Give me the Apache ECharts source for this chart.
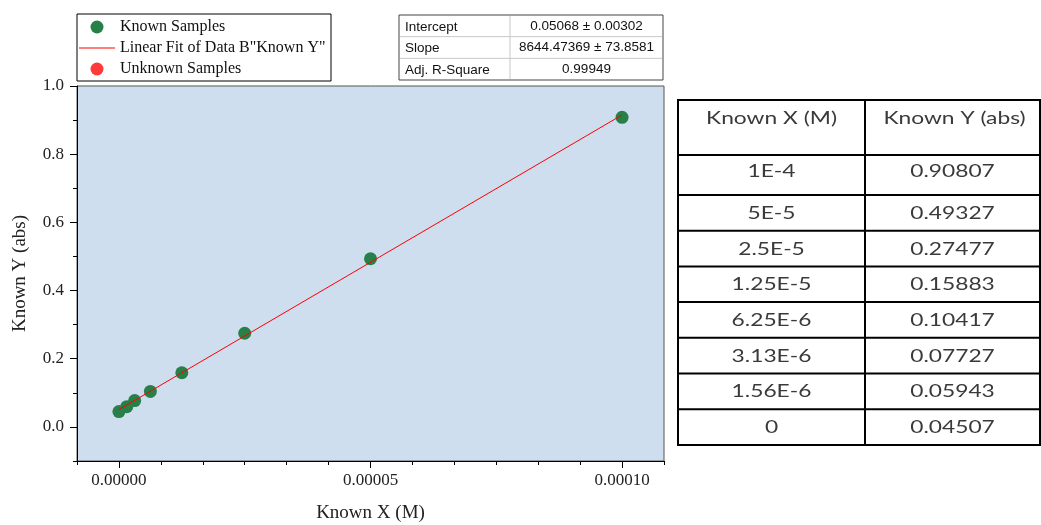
<!DOCTYPE html>
<html>
<head>
<meta charset="utf-8">
<script src="https://cdn.jsdelivr.net/npm/echarts@6/dist/echarts.min.js"></script>
<style>html,body{margin:0;padding:0;background:#fff}#c{width:1041px;height:525px}</style>
</head>
<body>
<div id="c"></div>
<script>
// ---- data ----
var knownX = [1e-4, 5e-5, 2.5e-5, 1.25e-5, 6.25e-6, 3.13e-6, 1.56e-6, 0];
var knownY = [0.90807, 0.49327, 0.27477, 0.15883, 0.10417, 0.07727, 0.05943, 0.04507];
var knownXText = ['1E-4', '5E-5', '2.5E-5', '1.25E-5', '6.25E-6', '3.13E-6', '1.56E-6', '0'];
var unknownX = [];
var unknownY = [];
var intercept = 0.05068;
var slope = 8644.47369;
var fitRange = [0, 1e-4];
var statNames = ['Intercept', 'Slope', 'Adj. R-Square'];
var statValues = ['0.05068 \u00b1 0.00302', '8644.47369 \u00b1 73.8581', '0.99949'];
var tableHeaders = ['Known X (M)', 'Known Y (abs)'];
var xMajorTicks = [0, 5e-5, 1e-4];
var yMajorTicks = [0, 0.2, 0.4, 0.6, 0.8, 1.0];
var yMinorTicks = [-0.1, 0.1, 0.3, 0.5, 0.7, 0.9];
var xStep = 5e-5 / 6;
var xMin = -xStep, xMax = 1e-4 + xStep;
var yMin = -0.1, yMax = 1.0;

var xMinorTicks = [];
for (var i = -1; i <= 13; i++) { if (i % 6 !== 0) xMinorTicks.push(i * xStep); }

var knownData = knownX.map(function (x, i) { return [x, knownY[i]]; });
var unknownData = unknownX.map(function (x, i) { return [x, unknownY[i]]; });
var fitData = fitRange.map(function (x) { return [x, intercept + slope * x]; });

var serif = 'Liberation Serif';
var chart = echarts.init(document.getElementById('c'));

// ---- graphic tables ----
var graphics = [];
// stats table
var sx = 399, sy = 15, sw = 264, sh = 65, sc = 510, rh = sh / 3;
graphics.push({ type: 'rect', shape: { x: sx, y: sy, width: sw, height: sh }, style: { fill: '#fff', stroke: '#444', lineWidth: 1 }, z: 10 });
for (var r = 1; r < 3; r++) {
  graphics.push({ type: 'line', shape: { x1: sx + 1, y1: sy + r * rh, x2: sx + sw - 1, y2: sy + r * rh }, style: { stroke: '#c8c8c8', lineWidth: 1 }, z: 11 });
}
graphics.push({ type: 'line', shape: { x1: sc, y1: sy + 1, x2: sc, y2: sy + sh - 1 }, style: { stroke: '#c8c8c8', lineWidth: 1 }, z: 11 });
statNames.forEach(function (n, i) {
  graphics.push({ type: 'text', x: sx + 6, y: sy + rh * (i + 0.5) + 1, style: { text: n, fontFamily: 'Liberation Sans', fontSize: 13.5, fill: '#111', textAlign: 'left', textVerticalAlign: 'middle' }, z: 12 });
  graphics.push({ type: 'text', x: (sc + sx + sw) / 2, y: sy + rh * (i + 0.5), style: { text: statValues[i], fontFamily: 'Liberation Sans', fontSize: 13.5, fill: '#111', textAlign: 'center', textVerticalAlign: 'middle' }, z: 12 });
});

// data table
var tx = 678, ty = 100, tw = 362, headH = 55, firstRowH = 40, rowH = 35.7, tc = 865;
var nRows = knownX.length;
var th = headH + firstRowH + rowH * (nRows - 1);
function rowTop(k) { return ty + headH + (k === 0 ? 0 : firstRowH + (k - 1) * rowH); }
graphics.push({ type: 'rect', shape: { x: tx, y: ty, width: tw, height: th }, style: { fill: '#fff', stroke: '#000', lineWidth: 2 }, z: 10 });
for (var k = 0; k < nRows; k++) {
  var ly = rowTop(k);
  graphics.push({ type: 'line', shape: { x1: tx, y1: ly, x2: tx + tw, y2: ly }, style: { stroke: '#000', lineWidth: 2 }, z: 11 });
}
graphics.push({ type: 'line', shape: { x1: tc, y1: ty, x2: tc, y2: ty + th }, style: { stroke: '#000', lineWidth: 2 }, z: 11 });
var tFont = { fontFamily: 'Lato', fontSize: 17, fill: '#3a3a3a', textAlign: 'center', textVerticalAlign: 'middle' };
var c1 = (tx + tc) / 2, c2 = (tc + tx + tw) / 2, scx = 1.34;
function tText(txt, x, y) {
  graphics.push({ type: 'text', x: x, y: y, scaleX: scx, style: Object.assign({ text: txt }, tFont), z: 12 });
}
tText(tableHeaders[0], c1, ty + 19);
tText(tableHeaders[1], c2 + 2, ty + 19);
for (var k2 = 0; k2 < nRows; k2++) {
  var cy = rowTop(k2) + (k2 === 0 ? 17 : rowH / 2 + 0.5);
  tText(knownXText[k2], c1, cy);
  tText(knownY[k2].toFixed(5), c2, cy);
}

var axisTitle = { fontFamily: serif, fontSize: 19, color: '#222' };
var lineIcon = 'path://M0,0 L36,0 L36,1.2 L0,1.2 Z';

chart.setOption({
  animation: false,
  backgroundColor: '#fff',
  grid: { left: 77, right: 377, top: 86, bottom: 64, outerBoundsMode: 'none', containLabel: false, show: true, backgroundColor: '#cfdeee', borderColor: '#555', borderWidth: 1 },
  legend: {
    orient: 'vertical', left: 77, top: 14,
    padding: [5, 2, 4, 2], itemWidth: 36, itemHeight: 13, itemGap: 5,
    borderColor: '#000', borderWidth: 1, backgroundColor: '#fff',
    textStyle: { fontFamily: serif, fontSize: 16, color: '#111', width: 209, lineHeight: 13, height: 13 },
    data: [
      { name: 'Known Samples', icon: 'circle' },
      { name: 'Linear Fit of Data B"Known Y"', icon: lineIcon, itemStyle: { color: '#ff0000' } },
      { name: 'Unknown Samples', icon: 'circle' }
    ]
  },
  xAxis: [{
    type: 'value', min: xMin, max: xMax,
    name: 'Known X (M)', nameLocation: 'middle', nameGap: 43, nameTextStyle: axisTitle,
    axisLine: { show: true, onZero: false, lineStyle: { color: '#000', width: 1 } },
    axisTick: { show: true, inside: false, length: 7, customValues: xMajorTicks, lineStyle: { color: '#000' } },
    axisLabel: { show: true, customValues: xMajorTicks, margin: 11, fontFamily: serif, fontSize: 17, color: '#222', formatter: function (v) { return v.toFixed(5); } },
    splitLine: { show: false }
  }, {
    type: 'value', min: xMin, max: xMax, position: 'bottom',
    axisLine: { show: false, onZero: false },
    axisTick: { show: true, inside: false, length: 4, customValues: xMinorTicks, lineStyle: { color: '#000' } },
    axisLabel: { show: false }, splitLine: { show: false }
  }],
  yAxis: [{
    type: 'value', min: yMin, max: yMax,
    name: 'Known Y (abs)', nameLocation: 'middle', nameGap: 47, nameTextStyle: axisTitle,
    axisLine: { show: true, onZero: false, lineStyle: { color: '#000', width: 1 } },
    axisTick: { show: true, inside: false, length: 7, customValues: yMajorTicks, lineStyle: { color: '#000' } },
    axisLabel: { show: true, customValues: yMajorTicks, margin: 13, fontFamily: serif, fontSize: 17, color: '#222', formatter: function (v) { return v.toFixed(1); } },
    splitLine: { show: false }
  }, {
    type: 'value', min: yMin, max: yMax, position: 'left',
    axisLine: { show: false, onZero: false },
    axisTick: { show: true, inside: false, length: 4, customValues: yMinorTicks, lineStyle: { color: '#000' } },
    axisLabel: { show: false }, splitLine: { show: false }
  }],
  series: [{
    name: 'Known Samples', type: 'scatter', data: knownData, symbolSize: 13,
    itemStyle: { color: '#268048', opacity: 1 }, z: 3
  }, {
    name: 'Linear Fit of Data B"Known Y"', type: 'line', data: fitData, symbol: 'none',
    lineStyle: { color: '#ff0000', width: 1 }, itemStyle: { color: '#ff0000' }, z: 4
  }, {
    name: 'Unknown Samples', type: 'scatter', data: unknownData, symbolSize: 13,
    itemStyle: { color: '#ff3a3a', opacity: 1 }, z: 3
  }],
  graphic: graphics
});
</script>
</body>
</html>
